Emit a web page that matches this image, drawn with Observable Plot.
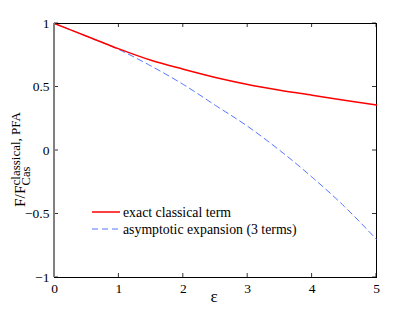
<!DOCTYPE html>
<html><head><meta charset="utf-8">
<script src="https://cdn.jsdelivr.net/npm/d3@7"></script>
<script src="https://cdn.jsdelivr.net/npm/@observablehq/plot@0.6"></script>
<style>
body{margin:0;background:#fff}
#chart{width:415px;height:312px}
svg text{font-family:"Liberation Serif","DejaVu Serif",serif !important}
</style>
</head><body><div id="chart"></div>
<script>
const epsilon = [0, 0.5, 1, 1.5, 2, 2.5, 3, 3.5, 4, 4.5, 5];
const exactClassical = [1, 0.9, 0.80, 0.71, 0.64, 0.575, 0.52, 0.475, 0.435, 0.395, 0.358];
const asymptotic3 = [1, 0.9, 0.795, 0.665, 0.52, 0.355, 0.19, 0.0, -0.21, -0.44, -0.70];
const xTicks = [0, 1, 2, 3, 4, 5];
const xTickLabels = ["0", "1", "2", "3", "4", "5"];
const yTicks = [-1, -0.5, 0, 0.5, 1];
const yTickLabels = ["−1", "−0.5", "0", "0.5", "1"];
const seriesNames = ["exact classical term", "asymptotic expansion (3 terms)"];
const seriesColors = ["#ff0000", "#4466ff"];

const exactData = epsilon.map((e, i) => ({e, v: exactClassical[i]}));
const asymData = epsilon.map((e, i) => ({e, v: asymptotic3[i]}));
const fx = (d) => xTickLabels[xTicks.indexOf(d)];
const fy = (d) => yTickLabels[yTicks.indexOf(d)];

const chart = Plot.plot({
  width: 415, height: 312,
  marginLeft: 54, marginRight: 39, marginTop: 23, marginBottom: 35,
  style: {fontFamily: "Liberation Serif, serif", fontSize: "13.5px", background: "white", color: "black"},
  x: {domain: [0, 5], label: null},
  y: {domain: [-1, 1], label: null},
  marks: [
    Plot.frame({stroke: "black", strokeWidth: 1}),
    Plot.axisX({ticks: xTicks, tickFormat: fx, tickSize: 0, tickPadding: 6, fontSize: 13.5, label: null}),
    Plot.axisY({ticks: yTicks, tickFormat: fy, tickSize: 0, tickPadding: 5, fontSize: 13.5, label: null}),
    Plot.line(asymData, {x: "e", y: "v", stroke: seriesColors[1], strokeWidth: 0.9, strokeDasharray: "6,4", curve: "monotone-x"}),
    Plot.line(exactData, {x: "e", y: "v", stroke: seriesColors[0], strokeWidth: 1.5, curve: "monotone-x"})
  ]
});
document.getElementById("chart").appendChild(chart);

const sx = chart.scale("x"), sy = chart.scale("y");
const svg = d3.select(chart);
const x0 = sx.apply(0), x1 = sx.apply(5), y0 = sy.apply(-1), y1 = sy.apply(1);
const T = 4;
const g = svg.append("g").attr("stroke", "black").attr("stroke-width", 0.8);
for (const t of xTicks) {
  const px = sx.apply(t);
  g.append("line").attr("x1", px).attr("x2", px).attr("y1", y0).attr("y2", y0 - T);
  g.append("line").attr("x1", px).attr("x2", px).attr("y1", y1).attr("y2", y1 + T);
}
for (const t of yTicks) {
  const py = sy.apply(t);
  g.append("line").attr("x1", x0).attr("x2", x0 + T).attr("y1", py).attr("y2", py);
  g.append("line").attr("x1", x1).attr("x2", x1 - T).attr("y1", py).attr("y2", py);
}
svg.append("line").attr("x1", x0).attr("x2", x0).attr("y1", y1).attr("y2", y0)
  .attr("stroke", "#808080").attr("stroke-width", 2);

svg.append("text").attr("x", (x0 + x1) / 2 - 1).attr("y", 302).attr("text-anchor", "middle")
  .attr("font-size", 17).text("ε");

const yl = svg.append("g").attr("transform", "translate(25,207) rotate(-90)").attr("text-anchor", "start");
const main = yl.append("text").attr("x", 0).attr("y", 0).attr("font-size", 15.5).text("F/F");
const w = main.node().getComputedTextLength();
yl.append("text").attr("x", w).attr("y", -5.5).attr("font-size", 13).text("classical, PFA");
yl.append("text").attr("x", w).attr("y", 5).attr("font-size", 12.5).text("Cas");

const lg = svg.append("g").attr("font-size", 13.8).attr("text-anchor", "start");
lg.append("line").attr("x1", 92).attr("x2", 120).attr("y1", 212).attr("y2", 212)
  .attr("stroke", seriesColors[0]).attr("stroke-width", 1.5);
lg.append("text").attr("x", 123).attr("y", 216.5).text(seriesNames[0]);
lg.append("line").attr("x1", 92).attr("x2", 120).attr("y1", 229).attr("y2", 229)
  .attr("stroke", seriesColors[1]).attr("stroke-width", 0.9).attr("stroke-dasharray", "6,4");
lg.append("text").attr("x", 123).attr("y", 233.5).text(seriesNames[1]);
</script>
</body></html>
